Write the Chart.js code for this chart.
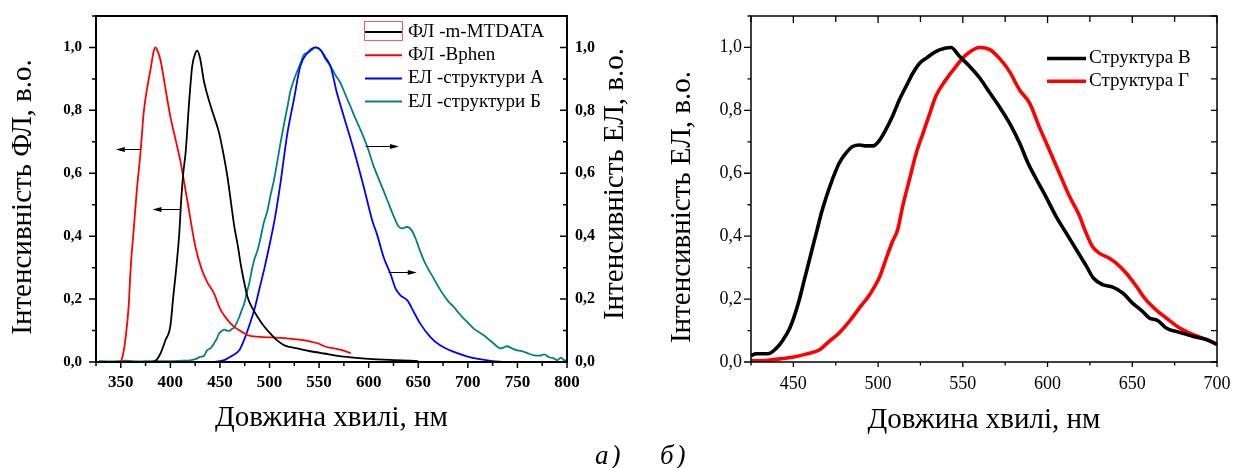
<!DOCTYPE html>
<html lang="uk">
<head>
<meta charset="utf-8">
<title>Спектри ФЛ та ЕЛ</title>
<script src="https://cdn.jsdelivr.net/npm/chart.js@4.4.1/dist/chart.umd.min.js"></script>
<style>
  html, body { margin: 0; padding: 0; background: #fff; }
  body { position: relative; width: 1233px; height: 468px; overflow: hidden; }
  canvas { position: absolute; top: 0; }
  #panelA { left: 0; }
  #panelB { left: 640px; }
  .tag { position: absolute; top: 442px; font: italic 27px/27px "Liberation Serif", "Times New Roman", serif; color: #000; letter-spacing: 3px; }
</style>
</head>
<body>
<canvas id="panelA" width="640" height="468"></canvas>
<canvas id="panelB" width="593" height="468"></canvas>
<div class="tag" style="left:595px">а)</div>
<div class="tag" style="left:660px">б)</div>
<script>
// Spectra as [wavelength nm, normalised intensity] pairs.

// Panel а: photoluminescence (left axis)
const flMtdata = [
  [380,0],[385,0.004],[390,0.027],[395,0.069],[400,0.115],[403,0.21],[406,0.30],[409,0.41],
  [411,0.52],[413,0.60],[415.5,0.67],[419,0.83],[422,0.94],[425,0.98],[427,0.99],[430,0.965],
  [434,0.89],[441,0.81],[449,0.73],[453,0.67],[457.5,0.59],[461,0.51],[464.5,0.43],[468,0.37],
  [471,0.31],[474,0.26],[478,0.205],[482,0.175],[488,0.143],[494,0.115],[501,0.09],[508,0.068],
  [515,0.053],[528,0.043],[540,0.035],[555,0.027],[578,0.016],[600,0.01],[625,0.006],[650,0.003]
];
const flBphen = [
  [350,0],[352,0.02],[355,0.08],[358,0.18],[360,0.30],[363,0.42],[366,0.54],[370,0.67],
  [373,0.79],[376,0.86],[380,0.93],[383,0.985],[385,1.0],[387,0.99],[390,0.96],[395,0.87],
  [400,0.78],[405,0.71],[410,0.64],[417,0.515],[425,0.37],[431,0.30],[437,0.255],[444,0.218],
  [450,0.17],[455,0.145],[460,0.125],[465,0.11],[470,0.10],[478,0.085],[490,0.08],[501,0.078],
  [515,0.076],[530,0.071],[540,0.066],[550,0.058],[555,0.05],[565,0.043],[575,0.036],[582,0.028]
];

// Panel а: electroluminescence (right axis)
const elStructA = [
  [444,0],[450,0.003],[455,0.007],[460,0.016],[465,0.025],[470,0.04],[475,0.075],[480,0.12],
  [485,0.17],[490,0.235],[495,0.30],[501,0.387],[505,0.45],[511,0.568],[518,0.727],[524.5,0.833],
  [531,0.94],[538,0.982],[546.5,1.0],[552,0.99],[556,0.97],[561.5,0.94],[568,0.855],[575,0.78],
  [585,0.674],[595,0.557],[603.5,0.451],[608.5,0.405],[615,0.334],[622,0.28],[627,0.234],[632,0.212],
  [639,0.196],[645.5,0.159],[652,0.122],[662,0.08],[672,0.053],[686,0.032],[699,0.018],[712,0.009],
  [725,0.003],[736,0]
];
const elStructB = [
  [328,0.003],[340,0.002],[355,0.004],[370,0.002],[385,0.003],[400,0.003],[412,0.004],[420,0.005],
  [425,0.009],[430,0.016],[434,0.02],[437,0.037],[441,0.045],[444,0.059],[447,0.075],[449,0.09],
  [452,0.099],[454.5,0.103],[457,0.1],[459.5,0.099],[462,0.105],[464.5,0.11],[467,0.125],[469.5,0.143],
  [472,0.165],[474.5,0.186],[477,0.22],[479.5,0.25],[482,0.29],[484.5,0.324],[488,0.356],[491,0.395],
  [494,0.44],[497.8,0.48],[501,0.53],[504.5,0.578],[508,0.64],[511,0.695],[514.5,0.755],[518,0.81],
  [521,0.86],[524.6,0.897],[528,0.925],[531.3,0.95],[534.6,0.977],[538,0.982],[542,0.99],[546.5,1.0],
  [551.5,0.992],[556,0.965],[561.6,0.94],[566.5,0.912],[571.6,0.887],[576.5,0.85],[581.7,0.812],[586.5,0.775],
  [591.8,0.738],[598.5,0.685],[605.2,0.621],[612,0.568],[618.7,0.515],[625.4,0.462],[630.4,0.43],[634.5,0.425],
  [638.8,0.43],[643,0.42],[647,0.395],[651,0.36],[655.5,0.324],[660.5,0.293],[665.6,0.266],[670.5,0.238],
  [675.7,0.212],[680.5,0.192],[685.8,0.175],[691,0.155],[695.9,0.138],[701,0.122],[706,0.106],[711,0.095],
  [716,0.085],[721,0.072],[726,0.059],[730,0.048],[733,0.043],[736,0.046],[739.5,0.05],[744,0.044],
  [750,0.037],[756,0.033],[761,0.027],[767,0.021],[772,0.02],[777,0.024],[782,0.015],[787,0.011],
  [790,0.006],[794,0.014],[797,0.006],[800,0.005]
];

// Panel б: electroluminescence of structures В and Г
const elStructV = [
  [425,0.02],[428,0.026],[435,0.026],[440,0.044],[444,0.071],[447.5,0.103],[450.5,0.145],[453.5,0.198],
  [456.5,0.262],[459.5,0.325],[462.5,0.389],[464,0.42],[466.5,0.473],[469.5,0.526],[473,0.58],[477,0.632],
  [481,0.664],[485,0.685],[489,0.69],[493,0.687],[497,0.687],[501,0.706],[504.5,0.738],[508.5,0.781],
  [512.5,0.833],[516.5,0.876],[520.5,0.918],[524.5,0.95],[528.5,0.966],[534,0.987],[540,0.998],[543,1.0],
  [548,0.972],[554,0.94],[560,0.903],[566,0.855],[571.5,0.812],[577.5,0.76],[583.5,0.696],[588.5,0.632],
  [593,0.585],[599,0.526],[605,0.463],[611,0.41],[617,0.357],[623,0.304],[627,0.267],[632.5,0.246],
  [638.5,0.238],[644.5,0.219],[650,0.188],[656,0.161],[660,0.14],[665,0.132],[670,0.108],[678,0.094],
  [686,0.081],[694,0.071],[700,0.057]
];
const elStructG = [
  [425,0.004],[434,0.005],[442,0.01],[449.5,0.015],[457.5,0.025],[465.5,0.039],[471,0.065],[477,0.092],
  [483,0.129],[489,0.172],[495,0.214],[501,0.272],[504.5,0.325],[508.5,0.383],[511.5,0.42],[514.5,0.495],
  [518.5,0.58],[522.5,0.664],[526.5,0.727],[530.5,0.79],[534,0.844],[540,0.897],[546,0.94],[552,0.977],
  [558,0.998],[560,1.0],[566,0.993],[571.5,0.966],[577.5,0.924],[583.5,0.865],[589.5,0.822],[595,0.749],
  [601,0.675],[607,0.6],[613,0.526],[619,0.463],[622,0.42],[626.5,0.367],[630.5,0.346],[636.5,0.33],
  [640.5,0.314],[646.5,0.282],[652.5,0.24],[658,0.198],[664,0.166],[670,0.14],[678,0.108],[686,0.087],
  [694,0.071],[700,0.055]
];

const SERIF = '"Liberation Serif", "Times New Roman", serif';
Chart.defaults.font.family = SERIF;
Chart.defaults.color = '#000';

const isStep = (v, step) => { const r = v / step; return Math.abs(r - Math.round(r)) < 1e-6; };
const intensityLabel = v => isStep(v, 0.2) ? v.toFixed(1).replace('.', ',') : '';
const nmLabel = v => isStep(v, 50) ? String(v) : '';
const toXY = pairs => pairs.map(([x, y]) => ({ x, y }));

function spectrum(label, pairs, color, axis, width) {
  return {
    label, data: toXY(pairs), yAxisID: axis,
    borderColor: color, backgroundColor: color, borderWidth: width,
    pointRadius: 0, fill: false, cubicInterpolationMode: 'monotone'
  };
}

// Fixed axis box sizes; label overhang is not allowed to push the plot area.
function fixedSize(size, horizontal) {
  return s => {
    if (horizontal) s.height = size; else s.width = size;
    s.paddingTop = 0; s.paddingBottom = 0; s.paddingLeft = 0; s.paddingRight = 0;
  };
}

// Plot frame plus major/minor tick marks, outward or inward.
const frameTicks = {
  id: 'frameTicks',
  afterDraw(chart, args, opts) {
    const { ctx, chartArea: a } = chart;
    ctx.save();
    ctx.strokeStyle = '#000';
    for (const m of opts.marks) {
      const sc = chart.scales[m.scale];
      ctx.lineWidth = m.width;
      ctx.beginPath();
      for (const t of sc.ticks) {
        const p = sc.getPixelForValue(t.value);
        const len = isStep(t.value, m.majorStep) ? m.major : m.minor;
        let x0, y0;
        if (m.edge === 'bottom') { x0 = p; y0 = a.bottom; }
        else if (m.edge === 'top') { x0 = p; y0 = a.top; }
        else if (m.edge === 'left') { x0 = a.left; y0 = p; }
        else { x0 = a.right; y0 = p; }
        ctx.moveTo(x0, y0);
        ctx.lineTo(x0 + m.dx * len, y0 + m.dy * len);
      }
      ctx.stroke();
    }
    ctx.lineWidth = opts.frameWidth;
    ctx.strokeRect(a.left, a.top, a.right - a.left, a.bottom - a.top);
    ctx.restore();
  }
};

// Vertical axis titles reading bottom-to-top on both sides.
const sideTitles = {
  id: 'sideTitles',
  afterDraw(chart, args, opts) {
    const { ctx } = chart;
    ctx.save();
    ctx.fillStyle = '#000';
    ctx.font = opts.font;
    ctx.textAlign = 'center';
    ctx.textBaseline = 'middle';
    for (const t of opts.items) {
      ctx.save();
      ctx.translate(t.x, t.y);
      ctx.rotate(-Math.PI / 2);
      ctx.fillText(t.text, 0, 0);
      ctx.restore();
    }
    ctx.restore();
  }
};

// Line-sample legend inside the plot.
const lineLegend = {
  id: 'lineLegend',
  afterDraw(chart, args, o) {
    const { ctx } = chart;
    ctx.save();
    ctx.font = o.font;
    ctx.textBaseline = 'middle';
    ctx.textAlign = 'left';
    chart.data.datasets.forEach((ds, i) => {
      const y = o.top + i * o.rowGap;
      ctx.strokeStyle = ds.borderColor;
      ctx.lineWidth = o.lineWidth;
      ctx.beginPath();
      ctx.moveTo(o.x0, y);
      ctx.lineTo(o.x1, y);
      ctx.stroke();
      ctx.fillStyle = '#000';
      ctx.fillText(ds.label, o.textX, y);
    });
    if (o.box) {
      ctx.strokeStyle = o.box.color;
      ctx.lineWidth = 1;
      ctx.strokeRect(o.box.x, o.box.y, o.box.w, o.box.h);
    }
    ctx.restore();
  }
};

// Arrows showing which axis each curve belongs to (given in data units).
const axisPointers = {
  id: 'axisPointers',
  afterDatasetsDraw(chart, args, o) {
    const { ctx, scales } = chart;
    ctx.save();
    ctx.strokeStyle = '#000';
    ctx.fillStyle = '#000';
    ctx.lineWidth = 1;
    for (const p of o.items) {
      const x0 = scales.x.getPixelForValue(p.from);
      const x1 = scales.x.getPixelForValue(p.to);
      const y = Math.round(scales.y.getPixelForValue(p.level)) + 0.5;
      const dir = Math.sign(x1 - x0);
      ctx.beginPath();
      ctx.moveTo(x0, y);
      ctx.lineTo(x1 - dir * 6, y);
      ctx.stroke();
      ctx.beginPath();
      ctx.moveTo(x1, y);
      ctx.lineTo(x1 - dir * 9, y - 2.5);
      ctx.lineTo(x1 - dir * 9, y + 2.5);
      ctx.closePath();
      ctx.fill();
    }
    ctx.restore();
  }
};

const noGrid = { display: false, drawTicks: false };

new Chart(document.getElementById('panelA'), {
  type: 'line',
  data: {
    datasets: [
      spectrum('ФЛ -m-MTDATA', flMtdata, '#000000', 'y', 1.8),
      spectrum('ФЛ -Bphen', flBphen, '#ff0000', 'y', 1.8),
      spectrum('ЕЛ -структури А', elStructA, '#0000ff', 'y2', 1.8),
      spectrum('ЕЛ -структури Б', elStructB, '#008080', 'y2', 1.8)
    ]
  },
  options: {
    responsive: false, animation: false, events: [],
    layout: { padding: { top: 16, left: 0, right: 0, bottom: 0 } },
    plugins: {
      legend: { display: false },
      tooltip: { enabled: false },
      frameTicks: {
        frameWidth: 2,
        marks: [
          { scale: 'x', edge: 'bottom', dx: 0, dy: 1, major: 6, minor: 4, majorStep: 50, width: 1.5 },
          { scale: 'y', edge: 'left', dx: -1, dy: 0, major: 7, minor: 4, majorStep: 0.2, width: 1.5 },
          { scale: 'y2', edge: 'right', dx: -1, dy: 0, major: 7, minor: 4, majorStep: 0.2, width: 1.5 }
        ]
      },
      sideTitles: {
        font: '29px ' + SERIF,
        items: [
          { text: 'Інтенсивність ФЛ, в.о.', x: 23, y: 197 },
          { text: 'Інтенсивність ЕЛ, в.о.', x: 615, y: 184 }
        ]
      },
      lineLegend: {
        font: '19px ' + SERIF, x0: 365, x1: 402, textX: 408, top: 32, rowGap: 23.2, lineWidth: 2,
        box: { x: 364.5, y: 21.5, w: 38, h: 19, color: '#ff5a5a' }
      },
      axisPointers: {
        items: [
          { from: 370, to: 345, level: 0.677 },
          { from: 410.5, to: 382, level: 0.486 },
          { from: 597, to: 630.5, level: 0.687 },
          { from: 620, to: 648.5, level: 0.285 }
        ]
      }
    },
    scales: {
      x: {
        type: 'linear', min: 325, max: 800,
        grid: noGrid, border: { display: false },
        ticks: { stepSize: 25, autoSkip: false, maxRotation: 0, callback: nmLabel, padding: 10, font: { size: 17, weight: 'bold' } },
        title: { display: true, text: 'Довжина хвилі, нм', font: { size: 29 }, padding: { top: 0, bottom: 32 } },
        afterFit: fixedSize(106, true)
      },
      y: {
        position: 'left', min: 0, max: 1.1,
        grid: noGrid, border: { display: false },
        ticks: { stepSize: 0.1, autoSkip: false, callback: intensityLabel, padding: 14, font: { size: 15, weight: 'bold' } },
        afterFit: fixedSize(96, false)
      },
      y2: {
        position: 'right', min: 0, max: 1.1,
        grid: noGrid, border: { display: false },
        ticks: { stepSize: 0.1, autoSkip: false, callback: intensityLabel, padding: 8, font: { size: 16, weight: 'bold' } },
        afterFit: fixedSize(73, false)
      }
    }
  },
  plugins: [axisPointers, frameTicks, sideTitles, lineLegend]
});

new Chart(document.getElementById('panelB'), {
  type: 'line',
  data: {
    datasets: [
      spectrum('Структура В', elStructV, '#000000', 'y', 3.6),
      spectrum('Структура Г', elStructG, '#ff0000', 'y', 3.6)
    ]
  },
  options: {
    responsive: false, animation: false, events: [],
    layout: { padding: { top: 16, left: 0, right: 16, bottom: 0 } },
    plugins: {
      legend: { display: false },
      tooltip: { enabled: false },
      frameTicks: {
        frameWidth: 1.5,
        marks: [
          { scale: 'x', edge: 'bottom', dx: 0, dy: 1, major: 5, minor: 3.5, majorStep: 50, width: 1.3 },
          { scale: 'x', edge: 'top', dx: 0, dy: 1, major: 7, minor: 6, majorStep: 50, width: 1.3 },
          { scale: 'y', edge: 'left', dx: -1, dy: 0, major: 7, minor: 3.5, majorStep: 0.2, width: 1.3 },
          { scale: 'y', edge: 'right', dx: -1, dy: 0, major: 6, minor: 6, majorStep: 0.2, width: 1.3 }
        ]
      },
      sideTitles: {
        font: '29px ' + SERIF,
        items: [ { text: 'Інтенсивність ЕЛ, в.о.', x: 42, y: 207 } ]
      },
      lineLegend: {
        font: '19px ' + SERIF, x0: 407, x1: 446, textX: 449, top: 58.5, rowGap: 22.7, lineWidth: 3.6
      }
    },
    scales: {
      x: {
        type: 'linear', min: 425, max: 700,
        grid: noGrid, border: { display: false },
        ticks: { stepSize: 25, autoSkip: false, maxRotation: 0, callback: nmLabel, padding: 11, font: { size: 18 } },
        title: { display: true, text: 'Довжина хвилі, нм', font: { size: 29 }, padding: { top: 0, bottom: 30 } },
        afterFit: fixedSize(106, true)
      },
      y: {
        position: 'left', min: 0, max: 1.1,
        grid: noGrid, border: { display: false },
        ticks: { stepSize: 0.1, autoSkip: false, callback: intensityLabel, padding: 9, font: { size: 18 } },
        afterFit: fixedSize(111, false)
      }
    }
  },
  plugins: [frameTicks, sideTitles, lineLegend]
});
</script>
</body>
</html>
